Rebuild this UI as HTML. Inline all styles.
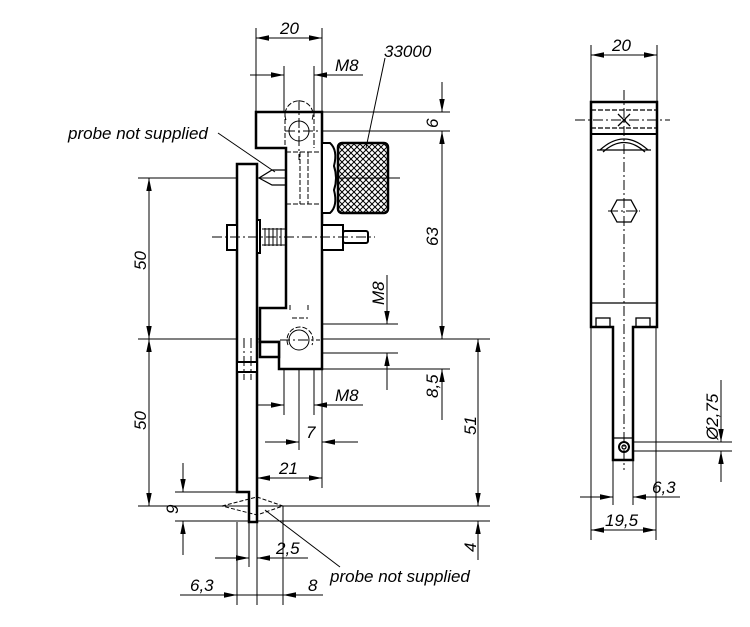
<!DOCTYPE html>
<html><head><meta charset="utf-8"><style>
html,body{margin:0;padding:0;background:#fff;}
svg{display:block;}
text{font-family:"Liberation Sans",sans-serif;font-style:italic;font-size:17px;fill:#000;}
</style></head><body>
<svg width="750" height="627" viewBox="0 0 750 627" xmlns="http://www.w3.org/2000/svg">
<defs>
<marker id="a" viewBox="0 0 12 6" refX="12" refY="3" markerWidth="13" markerHeight="7" markerUnits="userSpaceOnUse" orient="auto-start-reverse"><path d="M0,0.5 L12,3 L0,5.5z" fill="#000"/></marker>
<pattern id="kn" width="6" height="6" patternUnits="userSpaceOnUse"><path d="M0,0 L6,6 M6,0 L0,6" stroke="#000" stroke-width="1"/></pattern>
</defs>
<g fill="none" stroke="#000" stroke-width="1">
<line x1="256" y1="28" x2="256" y2="112"/><line x1="322" y1="28" x2="322" y2="112"/>
<line x1="256" y1="38" x2="322" y2="38" marker-start="url(#a)" marker-end="url(#a)"/>
<line x1="284" y1="66" x2="284" y2="112"/><line x1="314" y1="66" x2="314" y2="112"/>
<line x1="250" y1="75" x2="284" y2="75" marker-end="url(#a)"/><line x1="363" y1="75" x2="314" y2="75" marker-end="url(#a)"/>
<line x1="322" y1="112" x2="450" y2="112"/><line x1="310" y1="131" x2="450" y2="131"/>
<line x1="442" y1="82" x2="442" y2="112" marker-end="url(#a)"/>
<line x1="442" y1="131" x2="442" y2="339" marker-start="url(#a)" marker-end="url(#a)"/>
<line x1="322" y1="369" x2="450" y2="369"/>
<line x1="442" y1="420" x2="442" y2="369" marker-end="url(#a)"/>
<line x1="310" y1="324" x2="398" y2="324"/><line x1="310" y1="353" x2="398" y2="353"/>
<line x1="387" y1="275" x2="387" y2="324" marker-end="url(#a)"/>
<line x1="387" y1="390" x2="387" y2="353" marker-end="url(#a)"/>
<line x1="138" y1="339" x2="490" y2="339"/>
<line x1="478" y1="339" x2="478" y2="506" marker-start="url(#a)" marker-end="url(#a)"/>
<line x1="478" y1="560" x2="478" y2="521" marker-end="url(#a)"/>
<line x1="138" y1="506" x2="490" y2="506"/><line x1="175" y1="521" x2="490" y2="521"/>
<line x1="138" y1="178" x2="400" y2="178"/>
<line x1="149" y1="178" x2="149" y2="339" marker-start="url(#a)" marker-end="url(#a)"/>
<line x1="149" y1="339" x2="149" y2="506" marker-start="url(#a)" marker-end="url(#a)"/>
<line x1="175" y1="492" x2="249" y2="492"/>
<line x1="183" y1="463" x2="183" y2="492" marker-end="url(#a)"/>
<line x1="183" y1="555" x2="183" y2="521" marker-end="url(#a)"/>
<line x1="284" y1="369" x2="284" y2="415"/><line x1="314" y1="369" x2="314" y2="415"/><line x1="299" y1="320" x2="299" y2="450"/>
<line x1="250" y1="405" x2="284" y2="405" marker-end="url(#a)"/><line x1="363" y1="405" x2="314" y2="405" marker-end="url(#a)"/>
<line x1="322" y1="369" x2="322" y2="488"/>
<line x1="265" y1="442" x2="299" y2="442" marker-end="url(#a)"/><line x1="358" y1="442" x2="322" y2="442" marker-end="url(#a)"/>
<line x1="257" y1="478" x2="322" y2="478" marker-start="url(#a)" marker-end="url(#a)"/>
<line x1="237" y1="522" x2="237" y2="605"/><line x1="257" y1="522" x2="257" y2="605"/><line x1="283" y1="506" x2="283" y2="605"/><line x1="249" y1="522" x2="249" y2="567"/>
<line x1="215" y1="558" x2="249" y2="558" marker-end="url(#a)"/><line x1="308" y1="558" x2="257" y2="558" marker-end="url(#a)"/>
<line x1="180" y1="595" x2="237" y2="595" marker-end="url(#a)"/><line x1="323" y1="595" x2="283" y2="595" marker-end="url(#a)"/>
<line x1="237" y1="595" x2="283" y2="595"/>
<line x1="218" y1="133" x2="275" y2="172"/>
<line x1="265" y1="510" x2="340" y2="567"/>
<line x1="385" y1="58" x2="366" y2="148"/>
</g>
<g fill="#fff" stroke="#000" stroke-width="2.5">
<path d="M256,112 L322,112 L322,369 L279,369 L279,342 L260,342 L260,308 L286,308 L286,148 L256,148 Z"/>
<rect x="260" y="342" width="19" height="15"/>
<path d="M237,164 L257,164 L257,522 L249,522 L249,492 L237,492 Z"/>
<rect x="237" y="362" width="20" height="10" stroke-width="2"/>
<rect x="338" y="143" width="50" height="70" rx="4" fill="url(#kn)"/>
<path d="M322,143 L330,143 Q338,150 334,166 Q338,178 334,190 Q338,206 330,213 L322,213 Z" stroke-width="2"/>
<rect x="227" y="225" width="10" height="25" stroke-width="2"/>
<rect x="257" y="220" width="3" height="33" stroke-width="2"/>
<rect x="322" y="225" width="21" height="25" stroke-width="2"/>
<rect x="343" y="231" width="25" height="12" rx="2" stroke-width="2"/>
</g>
<g fill="none" stroke="#000" stroke-width="1">
<path d="M262,229 L286,229 M262,245 L286,245 M265,228 L265,246 M269,228 L269,246 M273,228 L273,246 M277,228 L277,246 M281,228 L281,246"/>
<circle cx="299" cy="131" r="10"/><circle cx="299" cy="340" r="10"/>
<g stroke-dasharray="5,2"><rect x="286" y="152" width="36" height="52"/><line x1="300" y1="152" x2="300" y2="204"/><line x1="308" y1="152" x2="308" y2="204"/>
<path d="M288,345 A13,13 0 1,1 312,345"/><path d="M290,310 L290,304 M308,310 L308,304 M292,318 L308,318"/>
<path d="M286,120 A14,14 0 1,1 312,120"/><line x1="285" y1="112" x2="285" y2="148"/><line x1="314" y1="112" x2="314" y2="148"/></g>
<path d="M286,170 L272,170 L259,178 L272,185 L286,185" stroke-width="1.2"/>
<path d="M222,506 L257,497 L283,506 L257,515 Z" stroke-dasharray="4,2"/>
<g stroke-dasharray="10,3,2,3"><line x1="212" y1="237" x2="375" y2="237"/><line x1="285" y1="131" x2="322" y2="131"/><line x1="299" y1="100" x2="299" y2="160"/><line x1="280" y1="340" x2="320" y2="340"/><line x1="244" y1="338" x2="244" y2="380"/><line x1="251" y1="338" x2="251" y2="380"/></g>
</g>
<!-- right view -->
<g fill="none" stroke="#000" stroke-width="1">
<line x1="591" y1="45" x2="591" y2="102"/><line x1="657" y1="45" x2="657" y2="102"/>
<line x1="591" y1="55" x2="657" y2="55" marker-start="url(#a)" marker-end="url(#a)"/>
<line x1="591" y1="327" x2="591" y2="540"/><line x1="656" y1="327" x2="656" y2="540"/>
<line x1="613" y1="460" x2="613" y2="505"/><line x1="633" y1="460" x2="633" y2="505"/>
<line x1="580" y1="497" x2="613" y2="497" marker-end="url(#a)"/><line x1="680" y1="497" x2="633" y2="497" marker-end="url(#a)"/>
<line x1="591" y1="530" x2="656" y2="530" marker-start="url(#a)" marker-end="url(#a)"/>
<line x1="630" y1="442" x2="732" y2="442"/><line x1="630" y1="451" x2="732" y2="451"/>
<line x1="721" y1="380" x2="721" y2="442" marker-end="url(#a)"/>
<line x1="721" y1="482" x2="721" y2="451" marker-end="url(#a)"/>
</g>
<g fill="#fff" stroke="#000" stroke-width="2.5">
<path d="M591,102 L657,102 L657,327 L633,327 L633,460 L613,460 L613,327 L591,327 Z"/>
</g>
<g fill="none" stroke="#000" stroke-width="1.3">
<line x1="591" y1="134" x2="657" y2="134" stroke-width="2"/>
<line x1="591" y1="303" x2="657" y2="303"/>
<path d="M600,150 Q624,128 648,150"/><path d="M603,152 Q624,133 645,152"/>
<line x1="597" y1="150" x2="651" y2="150"/>
<g stroke-dasharray="5,2"><line x1="591" y1="110" x2="657" y2="110"/><line x1="591" y1="128" x2="657" y2="128"/></g>
<path d="M611,211 L617,200 L631,200 L637,211 L631,222 L617,222 Z"/>
<rect x="596" y="318" width="14" height="9"/><rect x="636" y="318" width="14" height="9"/>
<circle cx="624" cy="447" r="5" stroke-width="2"/><circle cx="624" cy="447" r="2"/>
<line x1="613" y1="438" x2="633" y2="438"/>
<path d="M618,114 L624,120 L630,114 M618,126 L624,120 L630,126"/>
<g stroke-width="1" stroke-dasharray="10,3,2,3"><line x1="624" y1="90" x2="624" y2="470"/><line x1="575" y1="120" x2="670" y2="120"/><line x1="608" y1="211" x2="640" y2="211"/></g>
</g>
<text x="280" y="34">20</text>
<text x="335" y="71">M8</text>
<text x="384" y="57">33000</text>
<text x="68" y="139">probe not supplied</text>
<text x="330" y="582">probe not supplied</text>
<text x="335" y="401">M8</text>
<text x="306" y="438">7</text>
<text x="279" y="474">21</text>
<text x="276" y="554">2,5</text>
<text x="190" y="591">6,3</text>
<text x="308" y="591">8</text>
<text x="612" y="51">20</text>
<text x="652" y="493">6,3</text>
<text x="605" y="526">19,5</text>
<g>
<text transform="translate(146,270) rotate(-90)">50</text>
<text transform="translate(146,430) rotate(-90)">50</text>
<text transform="translate(438,128) rotate(-90)">6</text>
<text transform="translate(438,246) rotate(-90)">63</text>
<text transform="translate(384,305) rotate(-90)">M8</text>
<text transform="translate(438,398) rotate(-90)">8,5</text>
<text transform="translate(476,435) rotate(-90)">51</text>
<text transform="translate(476,552) rotate(-90)">4</text>
<text transform="translate(178,514) rotate(-90)">9</text>
<text transform="translate(718,440) rotate(-90)">Ø2,75</text>
</g>
</svg>
</body></html>
